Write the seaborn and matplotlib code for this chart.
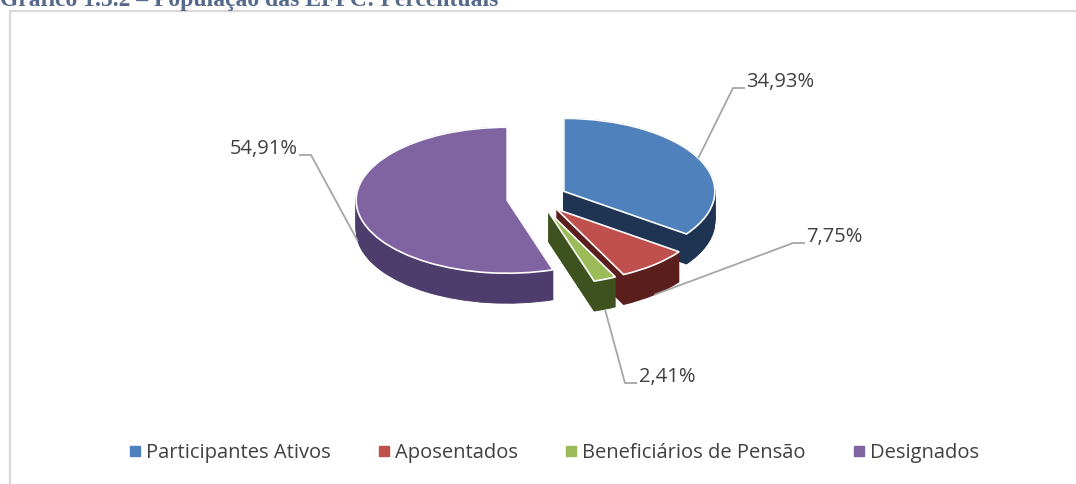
import numpy as np
import matplotlib
matplotlib.use("Agg")
import matplotlib.pyplot as plt
from matplotlib.lines import Line2D
import seaborn as sns

# dados
categorias = ["Participantes Ativos", "Aposentados", "Beneficiários de Pensão", "Designados"]
percentuais = [34.93, 7.75, 2.41, 54.91]
rotulos = ["34,93%", "7,75%", "2,41%", "54,91%"]

cores_topo = ["#4f81bd", "#c0504d", "#9bbb59", "#8064a2"]
cores_lado = ["#1f3352", "#5a1e1d", "#3e5220", "#4d3d6d"]
ordem_lado = [0, 3, 1, 2]  # de tras para frente
explode = [0.2, 0.2, 0.2, 0.2]

sns.set_theme(style="white")
plt.rcParams["font.family"] = ["Open Sans", "DejaVu Sans"]

W, H = 1076, 484
fig = plt.figure(figsize=(W / 100, H / 100), dpi=100)
fig.patch.set_facecolor("white")

# pixel -> dados: centro da pizza e raios da elipse
CX, CY, RX, RY = 537, 198, 151, 73
ESPESSURA = 30 / RY

ax = fig.add_axes([0, 0, 1, 1])

n_camadas = 40
for k in range(n_camadas):
    t = ESPESSURA * (1 - k / (n_camadas - 1))
    wedges, _ = ax.pie(percentuais, explode=explode, colors=cores_lado, startangle=90,
                       counterclock=False, center=(0, -t), radius=1,
                       wedgeprops=dict(linewidth=0.6, antialiased=True))
    for i, w in enumerate(wedges):
        w.set_edgecolor(cores_lado[i])
        w.set_zorder(1 + ordem_lado.index(i))

wedges, _ = ax.pie(percentuais, explode=explode, colors=cores_topo, startangle=90,
                   counterclock=False, center=(0, 0), radius=1,
                   wedgeprops=dict(linewidth=1.2, edgecolor="white"))
for w in wedges:
    w.set_zorder(10)

ax.set_aspect("auto")
ax.set_xlim(-CX / RX, (W - CX) / RX)
ax.set_ylim((CY - H) / RY, CY / RY)
ax.axis("off")

# rotulos com linhas de chamada
def px2data(px, py):
    return (px - CX) / RX, (CY - py) / RY

pos_rotulo = [(745, 88), (805, 243), (637, 383), (299, 155)]
cotovelo = [(733, 88), (793, 243), (625, 383), (311, 155)]
no_lado = [False, True, True, True]
ang = 90.0
for i, v in enumerate(percentuais):
    a1 = ang
    ang -= 360 * v / 100
    meio = np.deg2rad((a1 + ang) / 2)
    ex, ey = explode[i] * np.cos(meio), explode[i] * np.sin(meio)
    x0, y0 = ex + np.cos(meio), ey + np.sin(meio) - (ESPESSURA if no_lado[i] else 0)
    xc, yc = px2data(*cotovelo[i])
    xl, yl = px2data(*pos_rotulo[i])
    ax.plot([x0, xc, xl], [y0, yc, yl], color="#a6a6a6", lw=1.3, zorder=20, solid_capstyle="butt")
    ha = "right" if pos_rotulo[i][0] < cotovelo[i][0] else "left"
    ax.text(xl + (-0.01 if ha == "right" else 0.01), yl + 0.08, rotulos[i], ha=ha, va="center",
            fontsize=14.5, color="#404040", zorder=21)

# moldura e titulo
fig.add_artist(Line2D([10 / W, 10 / W], [0, 1 - 11 / H], transform=fig.transFigure,
                      color="#d9d9d9", lw=1.6))
fig.add_artist(Line2D([10 / W, 1], [1 - 11 / H, 1 - 11 / H], transform=fig.transFigure,
                      color="#d9d9d9", lw=1.6))
fig.text(0.0, 1 - 6 / H, "Gráfico 1.5.2 – População das EFPC: Percentuais",
         family="Liberation Serif", fontweight="bold", fontsize=17, color="#56698a",
         va="baseline", ha="left")

handles = [Line2D([], [], marker="s", linestyle="", markersize=6.5, color=c) for c in cores_topo]
fig.legend(handles, categorias, loc="center", bbox_to_anchor=(0.514, 1 - 453 / H), ncol=4,
           frameon=False, fontsize=14.5, labelcolor="#404040", handletextpad=0.15,
           columnspacing=2.25, handlelength=0.8)

fig.savefig("out.png", dpi=100, facecolor="white")
